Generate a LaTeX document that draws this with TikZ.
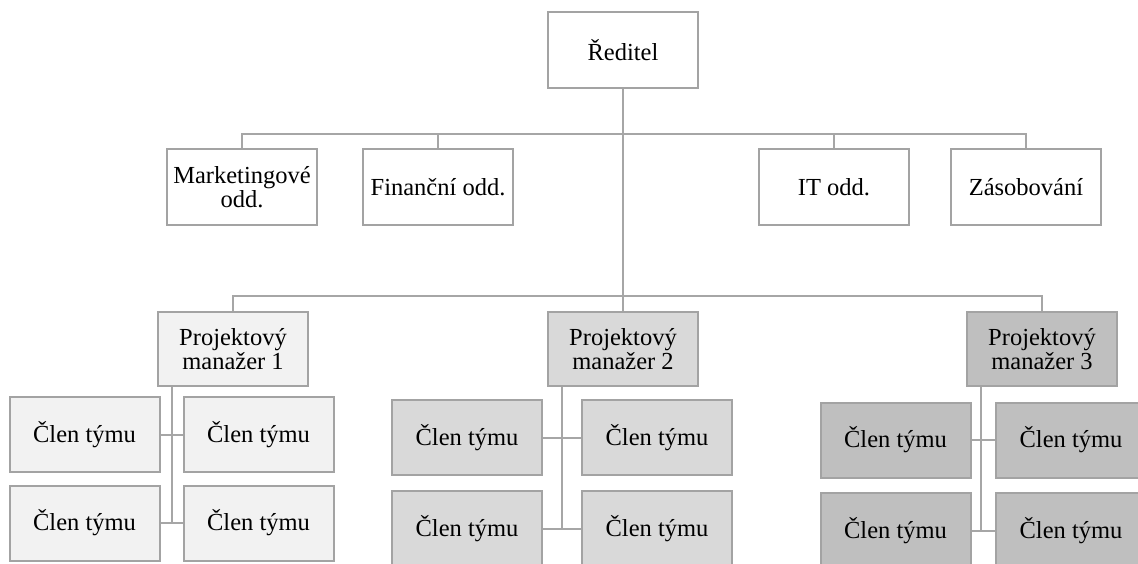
\documentclass[tikz,border=0pt]{standalone}
\usepackage{fontspec}
\setmainfont{Liberation Serif}
\definecolor{edge}{HTML}{A6A6A6}
\definecolor{boxline}{HTML}{A3A3A3}
\definecolor{fillA}{HTML}{F2F2F2}
\definecolor{fillB}{HTML}{D9D9D9}
\definecolor{fillC}{HTML}{BFBFBF}
\tikzset{
  orgbox/.style={draw=boxline, line width=2pt, fill=white, align=center,
    minimum width=150pt, minimum height=75pt, inner sep=2pt,
    font=\fontsize{24.5}{24.5}\selectfont},
  pmA/.style={orgbox, fill=fillA},
  pmB/.style={orgbox, fill=fillB},
  pmC/.style={orgbox, fill=fillC},
  conn/.style={draw=edge, line width=2pt}
}
\begin{document}
\begin{tikzpicture}[x=1pt, y=-1pt]
\path[use as bounding box] (0,0) rectangle (1138,563);
\clip (0,0) rectangle (1138,563);
\fill[white] (0,0) rectangle (1138,563);

% director and departments
\node[orgbox, minimum height=76pt] (dir) at (623,50) {Ředitel};
\node[orgbox, minimum height=76pt] (mkt) at (242,187) {Marketingové\\odd.};
\node[orgbox, minimum height=76pt] (fin) at (438,187) {Finanční odd.};
\node[orgbox, minimum height=76pt] (it)  at (834,187) {IT odd.};
\node[orgbox, minimum height=76pt] (zas) at (1026,187) {Zásobování};

% project managers
\node[pmA, minimum height=74pt] (pm1) at (233,349) {Projektový\\manažer 1};
\node[pmB, minimum height=74pt] (pm2) at (623,349) {Projektový\\manažer 2};
\node[pmC, minimum height=74pt] (pm3) at (1042,349) {Projektový\\manažer 3};

% team 1
\node[pmA] (a1) at (84.5,434.5) {Člen týmu};
\node[pmA] (a2) at (258.5,434.5) {Člen týmu};
\node[pmA] (a3) at (84.5,523) {Člen týmu};
\node[pmA] (a4) at (258.5,523) {Člen týmu};
% team 2
\node[pmB] (b1) at (467,437.5) {Člen týmu};
\node[pmB] (b2) at (657,437.5) {Člen týmu};
\node[pmB] (b3) at (467,528.5) {Člen týmu};
\node[pmB] (b4) at (657,528.5) {Člen týmu};
% team 3
\node[pmC] (c1) at (895.5,440) {Člen týmu};
\node[pmC] (c2) at (1071,440) {Člen týmu};
\node[pmC] (c3) at (895.5,530.5) {Člen týmu};
\node[pmC] (c4) at (1071,530.5) {Člen týmu};

% connectors
\coordinate (h1) at (623,134);
\coordinate (h2) at (623,296);
\draw[conn] (dir.south) -- (pm2.north);
\draw[conn] (mkt.north) |- (h1) -| (zas.north);
\draw[conn] (fin.north) -- (fin.north |- h1);
\draw[conn] (it.north) -- (it.north |- h1);
\draw[conn] (pm1.north) |- (h2) -| (pm3.north);

\draw[conn] ([xshift=15pt]pm1.south west) |- (a4.west);
\draw[conn] (a1.east) -- (a2.west);
\draw[conn] (a3.east) -- (a4.west);
\draw[conn] ([xshift=15pt]pm2.south west) |- (b4.west);
\draw[conn] (b1.east) -- (b2.west);
\draw[conn] (b3.east) -- (b4.west);
\draw[conn] ([xshift=15pt]pm3.south west) |- (c4.west);
\draw[conn] (c1.east) -- (c2.west);
\draw[conn] (c3.east) -- (c4.west);
\end{tikzpicture}
\end{document}
